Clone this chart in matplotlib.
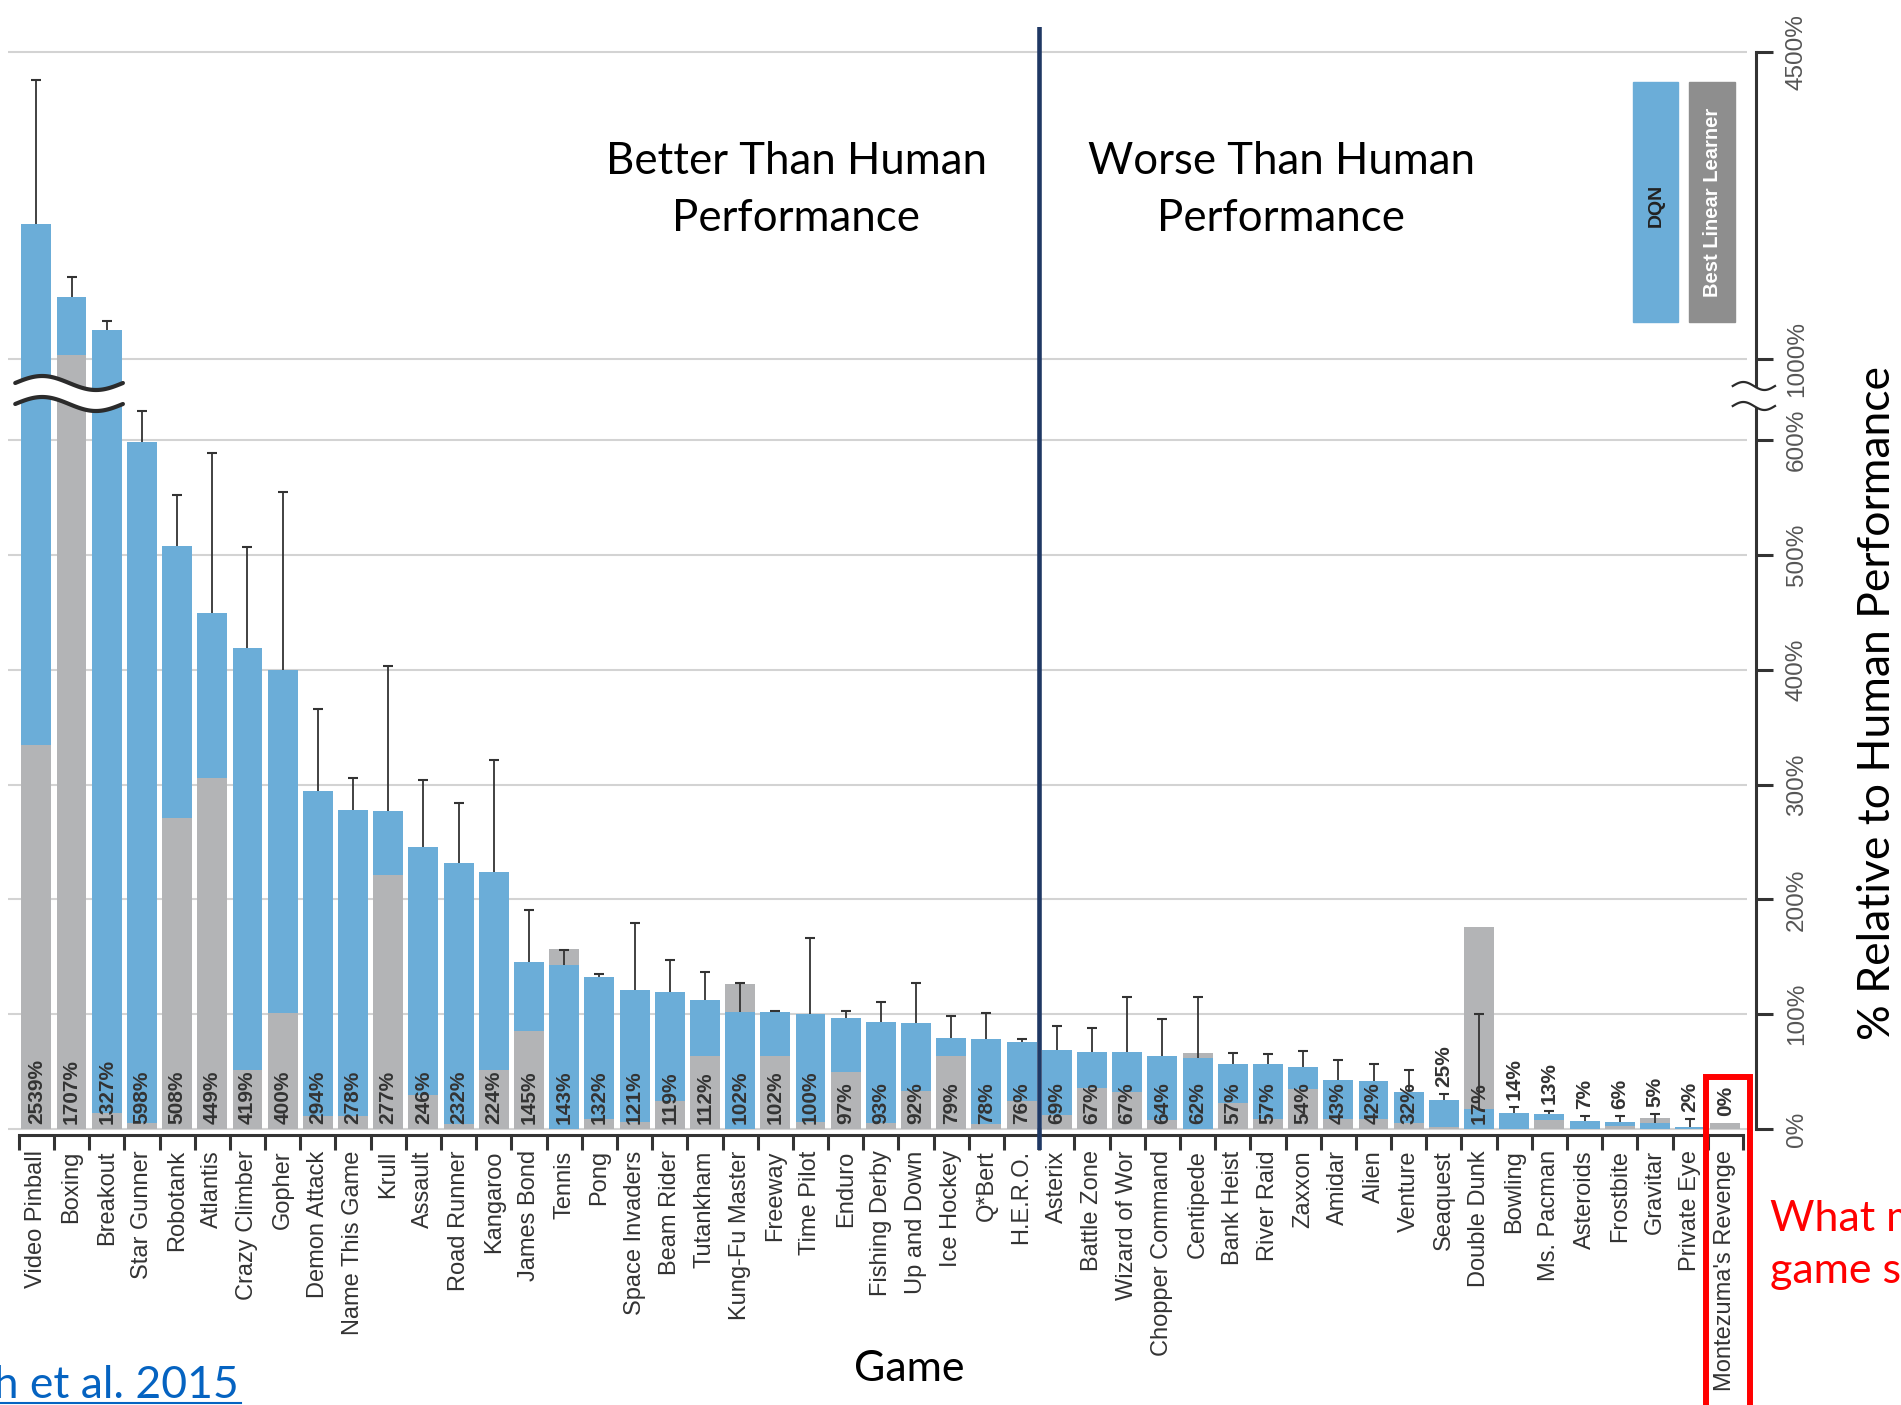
import numpy as np
import matplotlib
matplotlib.use("Agg")
import matplotlib.pyplot as plt
from matplotlib.patches import Rectangle
from matplotlib.lines import Line2D
from matplotlib.ticker import NullFormatter, NullLocator

plt.rcParams["font.family"] = ["Liberation Sans", "DejaVu Sans"]

games = ["Video Pinball", "Boxing", "Breakout", "Star Gunner", "Robotank", "Atlantis",
         "Crazy Climber", "Gopher", "Demon Attack", "Name This Game", "Krull", "Assault",
         "Road Runner", "Kangaroo", "James Bond", "Tennis", "Pong", "Space Invaders",
         "Beam Rider", "Tutankham", "Kung-Fu Master", "Freeway", "Time Pilot", "Enduro",
         "Fishing Derby", "Up and Down", "Ice Hockey", "Q*Bert", "H.E.R.O.", "Asterix",
         "Battle Zone", "Wizard of Wor", "Chopper Command", "Centipede", "Bank Heist",
         "River Raid", "Zaxxon", "Amidar", "Alien", "Venture", "Seaquest", "Double Dunk",
         "Bowling", "Ms. Pacman", "Asteroids", "Frostbite", "Gravitar", "Private Eye",
         "Montezuma's Revenge"]

# DQN score, % of human
dqn = np.array([2539, 1707, 1327, 598, 508, 449, 419, 400, 294, 278, 277, 246, 232, 224,
                145, 143, 132, 121, 119, 112, 102, 102, 100, 97, 93, 92, 79, 78, 76, 69,
                67, 67, 64, 62, 57, 57, 54, 43, 42, 32, 25, 17, 14, 13, 7, 6, 5, 2, 0], float)

# best linear learner, % of human
linear = np.array([334, 1050, 14, 5, 271, 306, 51, 101, 11, 11, 221, 30, 4, 51, 85, 157,
                   9, 6, 24, 64, 126, 64, 6, 50, 5, 33, 64, 4, 24, 12, 36, 32, 8, 66, 23,
                   9, 35, 9, 9, 5, 2, 176, 0, 8, 0, 3, 10, 0, 5], float)

# top of the DQN error bars
err_top = np.array([4180, 1935, 1433, 743, 552, 589, 507, 555, 366, 306, 403, 304, 284,
                    321, 191, 156, 135, 179, 147, 137, 127, 103, 166, 103, 111, 127, 98,
                    101, 78, 90, 88, 115, 96, 115, 66, 65, 68, 60, 57, 51, 30.5, 100, 19.5,
                    15.4, 11, 11, 13, 8.7, np.nan], float)

yticks = [0, 100, 200, 300, 400, 500, 600, 1000, 4500]

BLUE = "#6badd8"
GRAY = "#b3b4b6"
DARK = "#333333"

# broken axis: 0-600 linear, squeezed 600-1000, compressed 1000-4500 (pixel units)
LO, MID, HI = 689 / 600, 81 / 400, 307 / 3500


def fwd(v):
    v = np.asarray(v, float)
    return np.where(v <= 600, v * LO,
                    np.where(v <= 1000, 689 + (v - 600) * MID, 770 + (v - 1000) * HI))


def inv(p):
    p = np.asarray(p, float)
    return np.where(p <= 689, p / LO,
                    np.where(p <= 770, 600 + (p - 689) / MID, 1000 + (p - 770) / HI))


W, H = 1901, 1405
fig = plt.figure(figsize=(W / 100, H / 100), dpi=100)
ax = fig.add_axes([8 / W, (H - 1150) / H, (1756 - 8) / W, (1150 - 27) / H])
ax.set_yscale("function", functions=(fwd, inv))
ax.set_xlim(-0.8055, 48.87)
ax.set_ylim(float(inv(-21)), float(inv(1102)))

x = np.arange(len(games))

ax.hlines(yticks, -0.8055, 48.61, color="#d3d3d3", lw=1.5, zorder=0)

back = np.maximum(dqn, linear)
front = np.minimum(dqn, linear)
back_col = [BLUE if d >= l else GRAY for d, l in zip(dqn, linear)]
front_col = [GRAY if d >= l else BLUE for d, l in zip(dqn, linear)]
ax.bar(x, back, 0.85, color=back_col, zorder=2)
ax.bar(x, front, 0.85, color=front_col, zorder=2.1)

m = ~np.isnan(err_top)
ax.vlines(x[m], dqn[m], err_top[m], color=DARK, lw=1.3, zorder=3)
ax.plot(x[m], err_top[m], ls="none", marker="_", ms=6.5, mew=1.5, color=DARK, zorder=3)

for i, (d, l, e) in enumerate(zip(dqn, linear, err_top)):
    if max(d, l) >= 30:
        yl = float(inv(5))
    else:
        top = max(d, l) if np.isnan(e) else max(d, l, e)
        yl = float(inv(fwd(top) + 7))
    ax.text(i, yl, f"{int(d)}%", rotation=90, ha="center", va="bottom",
            fontsize=15, fontweight="bold", color=DARK, zorder=4)

# axes styling
for s in ["left", "top"]:
    ax.spines[s].set_visible(False)
ax.spines["right"].set_bounds(0, 4500)
ax.spines["right"].set_linewidth(2.2)
ax.spines["right"].set_color(DARK)
ax.spines["bottom"].set_position(("data", float(inv(-6))))
ax.spines["bottom"].set_bounds(-0.5, 48.5)
ax.spines["bottom"].set_linewidth(2.2)
ax.spines["bottom"].set_color(DARK)

ax.yaxis.tick_right()
ax.set_yticks(yticks, labels=[f"{v}%" for v in yticks])
ax.yaxis.set_minor_locator(NullLocator())
ax.tick_params(axis="y", direction="out", length=12.5, width=2.2, color=DARK,
               labelcolor="#555555", labelsize=17.5, pad=9, labelrotation=90)
for lab in ax.get_yticklabels():
    lab.set_va("center")

ax.set_xticks(np.arange(-0.5, 49, 1))
ax.xaxis.set_major_formatter(NullFormatter())
ax.set_xticks(x, labels=games, minor=True)
ax.tick_params(axis="x", which="major", direction="out", length=11, width=2.2, color=DARK)
ax.tick_params(axis="x", which="minor", length=0, pad=11, labelsize=17,
               labelrotation=90, labelcolor=DARK)

ax.axvline(28.5, color="#1f3864", lw=3.3, zorder=5)

# break marks
xw = np.linspace(-0.6, 2.46, 120)
wv = 7 * np.sin(2 * np.pi * (xw + 0.6) / 3.06)
ax.fill_between(xw, inv(725 + wv), inv(746 + wv), color="white", zorder=4, lw=0)
for c in (746, 725):
    ax.plot(xw, inv(c + wv), color="#2b2b2b", lw=3, zorder=5, solid_capstyle="round")

xr = np.linspace(48.21, 49.41, 60)
wr = 4 * np.sin(2 * np.pi * (xr - 48.21) / 1.2)
ax.fill_between(xr, inv(723 + wr), inv(743 + wr), color="white", zorder=6, lw=0,
                clip_on=False)
for c in (743, 723):
    ax.plot(xr, inv(c + wr), color="#2b2b2b", lw=1.6, zorder=7, clip_on=False)

# red highlight round the last game
ax.add_patch(Rectangle((47.45, float(inv(-300))), 1.25, 45 - float(inv(-300)),
                       fill=False, ec="red", lw=4.3, zorder=8, clip_on=False))

# legend boxes
fig.add_artist(Rectangle((1633 / W, 1 - 322 / H), 45 / W, 240 / H, color=BLUE))
fig.add_artist(Rectangle((1689 / W, 1 - 322 / H), 46 / W, 240 / H, color="#8e8e8e"))
fig.text(1656 / W, 1 - 205 / H, "DQN", rotation=90, ha="center", va="center",
         fontsize=14, fontweight="bold", color="#222222")
fig.text(1712 / W, 1 - 202 / H, "Best Linear Learner", rotation=90, ha="center",
         va="center", fontsize=14.5, fontweight="bold", color="white")

# slide text
CAL = ["Lato", "DejaVu Sans"]
fig.text(796 / W, 1 - 190 / H, "Better Than Human\nPerformance", ha="center",
         va="center", fontsize=31.5, family=CAL, linespacing=1.5)
fig.text(1281 / W, 1 - 190 / H, "Worse Than Human\nPerformance", ha="center",
         va="center", fontsize=31.5, family=CAL, linespacing=1.5)
fig.text(909 / W, 1 - 1369 / H, "Game", ha="center", va="center", fontsize=31, family=CAL)
fig.text(1877 / W, 1 - 703 / H, "% Relative to Human Performance", rotation=90,
         ha="center", va="center", fontsize=32, family=CAL)
fig.text(1770 / W, 1 - 1245 / H, "What makes this\ngame so hard?", ha="left",
         va="center", fontsize=31, family=CAL, color="red", linespacing=1.45)
fig.text(239 / W, 1 - 1398 / H, "Mnih et al. 2015", ha="right", va="baseline",
         fontsize=32, family=CAL, color="#0563c1")
fig.add_artist(Line2D([0, 241 / W], [1 - 1403 / H] * 2, color="#0563c1", lw=1.5))

fig.savefig("out.png", dpi=100)
